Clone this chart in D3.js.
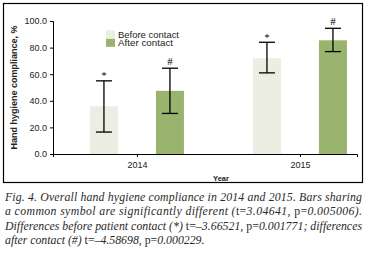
<!DOCTYPE html>
<html lang="en">
<head>
  <meta charset="UTF-8" />
  <script src="https://d3js.org/d3.v7.min.js"></script>
  <title>Hand hygiene compliance</title>
  <style>
    body { margin: 0; background: #fff; }
    svg { display: block; }
    .axis text { font-family: "Liberation Sans", Arial, sans-serif; font-size: 9px; fill: #222; }
    .axis path, .axis line { stroke: #000; stroke-width: 1; }
    .caption { font-family: "Liberation Serif", "DejaVu Serif", serif; font-size: 11.8px; fill: #2a2a2a; font-style: italic; }
    .caption .up { font-style: normal; }
  </style>
</head>
<body>
  <script>
    // data
    var years = [2014, 2015];
    var series = ["Before contact", "After contact"];
    var before = [36, 72];
    var after = [47.5, 85.5];
    var beforeLow = [16.5, 61], beforeHigh = [55, 84];
    var afterLow = [30.5, 77], afterHigh = [64.5, 94.5];
    var symbols = ["*", "#"];
    var yTicks = [0, 20, 40, 60, 80, 100];

    var width = 368, height = 260;
    var colors = ["#ebeee1", "#9ab46f"];

    var svg = d3.select("body").append("svg")
      .attr("width", width)
      .attr("height", height);

    // frame round the plot
    svg.append("rect")
      .attr("x", 3.5).attr("y", 3.5)
      .attr("width", 359).attr("height", 179)
      .attr("fill", "none")
      .attr("stroke", "#000")
      .attr("stroke-width", 1.2);

    var xScale = d3.scaleLinear()
      .domain([2013.485, 2015.35])
      .range([53, 357]);

    var yScale = d3.scaleLinear()
      .domain([0, 100])
      .range([154, 21]);

    var barW = 28, gap = 38;

    var rows = [];
    years.forEach(function (yr, i) {
      rows.push({ year: yr, s: 0, v: before[i], lo: beforeLow[i], hi: beforeHigh[i] });
      rows.push({ year: yr, s: 1, v: after[i], lo: afterLow[i], hi: afterHigh[i] });
    });
    var offset = function (d) { return d.s === 0 ? -(gap / 2 + barW) : gap / 2; };

    svg.append("g").selectAll("rect")
      .data(rows)
      .enter()
      .append("rect")
      .attr("x", function (d) { return xScale(d.year) + offset(d); })
      .attr("y", function (d) { return yScale(d.v); })
      .attr("width", barW)
      .attr("height", function (d) { return yScale(0) - yScale(d.v); })
      .attr("fill", function (d) { return colors[d.s]; });

    // error bars
    var err = svg.append("g").attr("stroke", "#000").attr("stroke-width", 1.3);
    rows.forEach(function (d) {
      var cx = xScale(d.year) + offset(d) + barW / 2;
      err.append("line").attr("x1", cx).attr("x2", cx)
        .attr("y1", yScale(d.lo)).attr("y2", yScale(d.hi));
      err.append("line").attr("x1", cx - 8).attr("x2", cx + 8)
        .attr("y1", yScale(d.lo)).attr("y2", yScale(d.lo));
      err.append("line").attr("x1", cx - 8).attr("x2", cx + 8)
        .attr("y1", yScale(d.hi)).attr("y2", yScale(d.hi));
      svg.append("text")
        .attr("x", cx)
        .attr("y", yScale(d.hi) - (d.s === 0 ? 1.5 : 3))
        .attr("text-anchor", "middle")
        .style("font-family", "Liberation Serif, serif")
        .style("font-size", d.s === 0 ? "10px" : "11px")
        .text(symbols[d.s]);
    });

    var xAxis = d3.axisBottom(xScale)
      .tickValues(years)
      .tickFormat(d3.format("d"))
      .tickSize(3)
      .tickSizeOuter(3);
    svg.append("g").attr("class", "axis")
      .attr("transform", "translate(0," + yScale(0) + ")")
      .call(xAxis)
      .selectAll("text").attr("dy", "0.9em");

    var yAxis = d3.axisLeft(yScale)
      .tickValues(yTicks)
      .tickFormat(d3.format(".1f"))
      .tickSize(3)
      .tickSizeOuter(3);
    svg.append("g").attr("class", "axis")
      .attr("transform", "translate(53,0)")
      .call(yAxis);

    svg.append("text")
      .attr("transform", "translate(17," + yScale(50) + ") rotate(-90)")
      .attr("text-anchor", "middle")
      .style("font-family", "Liberation Sans, Arial, sans-serif")
      .style("font-weight", "bold")
      .style("font-size", "9px")
      .attr("fill", "#222")
      .text("Hand hygiene compliance, %");

    svg.append("text")
      .attr("x", 221).attr("y", 181)
      .attr("text-anchor", "middle")
      .style("font-family", "Liberation Sans, Arial, sans-serif")
      .style("font-weight", "bold")
      .style("font-size", "7.5px")
      .attr("fill", "#222")
      .text("Year");

    // legend
    var legend = svg.append("g").attr("transform", "translate(106,30.5)");
    series.forEach(function (name, i) {
      legend.append("rect")
        .attr("x", 0).attr("y", i * 8.3)
        .attr("width", 9).attr("height", 8)
        .attr("fill", colors[i]);
      legend.append("text")
        .attr("x", 12).attr("y", i * 8.3 + 7.3)
        .style("font-family", "Liberation Sans, Arial, sans-serif")
        .style("font-size", "9.2px")
        .attr("textLength", i === 0 ? 61 : 55)
        .attr("lengthAdjust", "spacingAndGlyphs")
        .attr("fill", "#222")
        .text(name);
    });

    // caption, parts in upright type marked with up
    var caption = [
      [["Fig. 4. Overall hand hygiene compliance in 2014 and 2015. Bars sharing", 0]],
      [["a common symbol are significantly different (", 0], ["t=", 1], ["3.04641, ", 0], ["p=", 1], ["0.005006).", 0]],
      [["Differences before patient contact (*) ", 0], ["t=", 1], ["\u20133.66521, ", 0], ["p=", 1], ["0.001771; differences", 0]],
      [["after contact (#) ", 0], ["t=", 1], ["\u20134.58698, ", 0], ["p=", 1], ["0.000229.", 0]]
    ];
    caption.forEach(function (parts, i) {
      var t = svg.append("text")
        .attr("class", "caption")
        .attr("x", 5)
        .attr("y", 200.5 + i * 14.5);
      parts.forEach(function (p) {
        t.append("tspan").attr("class", p[1] ? "up" : null).text(p[0]);
      });
      if (i < caption.length - 1) {
        t.attr("textLength", 357).attr("lengthAdjust", "spacing");
      }
    });
  </script>
</body>
</html>
